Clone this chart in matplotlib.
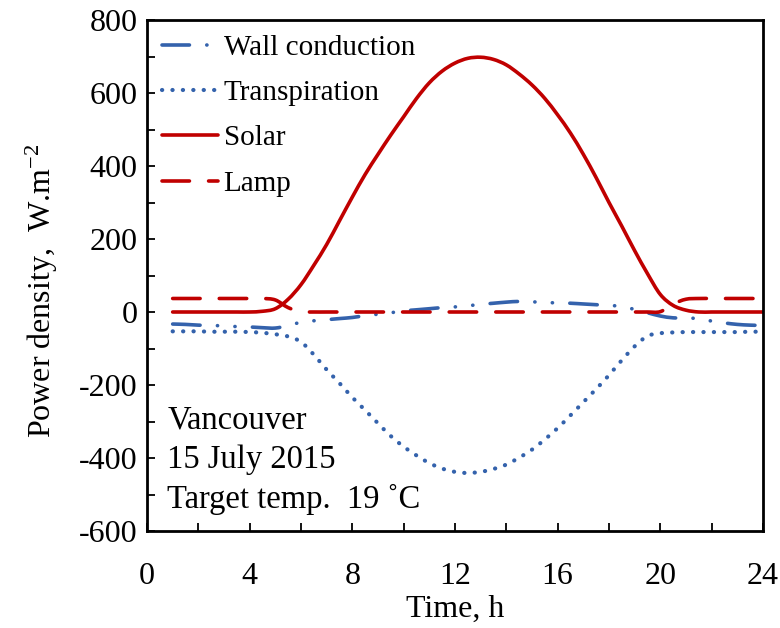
import matplotlib
matplotlib.use("Agg")
import matplotlib.pyplot as plt
from matplotlib.ticker import MultipleLocator
from matplotlib.path import Path
from matplotlib.patches import PathPatch
from matplotlib.lines import Line2D

plt.rcParams['font.family'] = ['Liberation Serif', 'DejaVu Serif']
plt.rcParams['mathtext.fontset'] = 'custom'
plt.rcParams['mathtext.rm'] = 'Liberation Serif'
plt.rcParams['mathtext.it'] = 'Liberation Serif:italic'
plt.rcParams['axes.unicode_minus'] = False

# ---- data ----
hours = [1, 1.5, 2, 2.5, 3, 3.5, 4,
         4.5, 5, 5.5, 6, 6.5, 7, 7.5, 8,
         8.5, 9, 9.5, 10, 10.5, 11, 11.5, 12,
         12.5, 13, 13.5, 14, 14.5, 15, 15.5, 16,
         16.5, 17, 17.5, 18, 18.5, 19, 19.5, 20,
         20.5, 21, 21.5, 22, 22.5, 23, 23.5, 24]

wall_conduction = [-33, -34, -36, -37, -38, -40, -41,
                   -43, -44, -37, -28, -24, -21, -18, -15,
                   -10, -6, -2, 3, 6, 9, 12, 14,
                   17, 21, 24, 27, 29, 28, 26, 25,
                   24, 22, 20, 18, 15, 7, -2, -11,
                   -16, -17, -18, -25, -30, -34, -36, -37]

transpiration = [-53, -53, -53, -54, -54, -54, -55,
                 -57, -61, -67, -82, -117, -158, -195, -234,
                 -269, -305, -340, -369, -393, -414, -429, -438,
                 -441, -438, -430, -418, -399, -377, -349, -318,
                 -283, -247, -211, -173, -132, -94, -66, -58,
                 -56, -55, -55, -55, -55, -55, -54, -54]

solar = [0, 0, 0, 0, 0, 0, 0,
         2, 9, 35, 75, 128, 185, 250, 315,
         377, 432, 485, 535, 585, 628, 660, 682,
         695, 698, 692, 677, 652, 622, 585, 540,
         490, 432, 368, 300, 235, 168, 105, 48,
         18, 5, 0, 0, 0, 0, 0, 0]

lamp = [37, 37, 37, 37, 37, 37, 37,
        37, 33, 12, 1, 0, 0, 0, 0,
        0, 0, 0, 0, 0, 0, 0, 0,
        0, 0, 0, 0, 0, 0, 0, 0,
        0, 0, 0, 0, 0, 0, 0, 1,
        22, 35, 37, 37, 37, 37, 37, 37]

series_labels = ['Wall conduction', 'Transpiration', 'Solar', 'Lamp']
annotation_lines = ['Vancouver', '15 July 2015', 'Target temp.  19 \u02daC']

# ---- styling ----
blue = '#3462AC'
red = '#C00000'
styles = [
    dict(color=blue, lw=2.6, ls=(0, (7.6, 4.8, 0.05, 4.8, 0.05, 4.8))),
    dict(color=blue, lw=3.0, ls=(0, (0.05, 2.45))),
    dict(color=red, lw=2.6, ls='-'),
    dict(color=red, lw=2.6, ls=(0, (7.6, 5.3))),
]


def smooth_path(xs, ys):
    """Excel-like smoothed line: cubic Bezier segments through the points."""
    n = len(xs)
    verts = [(xs[0], ys[0])]
    codes = [Path.MOVETO]
    for i in range(n - 1):
        x0, y0 = xs[max(i - 1, 0)], ys[max(i - 1, 0)]
        x1, y1 = xs[i], ys[i]
        x2, y2 = xs[i + 1], ys[i + 1]
        x3, y3 = xs[min(i + 2, n - 1)], ys[min(i + 2, n - 1)]
        c1 = (x1 + (x2 - x0) / 6.0, y1 + (y2 - y0) / 6.0)
        c2 = (x2 - (x3 - x1) / 6.0, y2 - (y3 - y1) / 6.0)
        verts += [c1, c2, (x2, y2)]
        codes += [Path.CURVE4] * 3
    return Path(verts, codes)


W, H = 780, 628
fig = plt.figure(figsize=(W / 100, H / 100), dpi=100)
L, R, T, B = 147, 763, 20, 531
ax = fig.add_axes([L / W, 1 - B / H, (R - L) / W, (B - T) / H])

handles = []
for ys, st, lab in zip([wall_conduction, transpiration, solar, lamp], styles, series_labels):
    patch = PathPatch(smooth_path(hours, ys), fill=False, edgecolor=st['color'],
                      lw=st['lw'], linestyle=st['ls'], capstyle='round',
                      joinstyle='round', transform=ax.transData)
    ax.add_patch(patch)
    handles.append(Line2D([], [], color=st['color'], lw=st['lw'], linestyle=st['ls'],
                          dash_capstyle='round', solid_capstyle='round', label=lab))

ax.set_xlim(0, 24)
ax.set_ylim(-600, 800)
ax.xaxis.set_major_locator(MultipleLocator(4))
ax.xaxis.set_minor_locator(MultipleLocator(2))
ax.yaxis.set_major_locator(MultipleLocator(200))
ax.yaxis.set_minor_locator(MultipleLocator(100))

for s in ax.spines.values():
    s.set_linewidth(2.0)

ax.tick_params(axis='both', which='both', direction='in', top=False,
               right=False, width=1.3, length=5.5)
ax.tick_params(axis='x', which='major', labelsize=23, pad=22)
ax.tick_params(axis='y', which='major', labelsize=23, pad=7)

ax.set_xlabel('Time, h', fontsize=23)
ax.set_ylabel(r'Power density,  W.m$^{-2}$', fontsize=23)
ax.xaxis.set_label_coords(0.5, -0.125)
ax.yaxis.set_label_coords(-0.142, 0.47)

ax.legend(handles=handles, loc='upper left', bbox_to_anchor=(0.025, 0.972),
          frameon=False, fontsize=21, handlelength=1.9, handletextpad=0.2,
          labelspacing=0.65, borderpad=0, borderaxespad=0)

ys_txt = [0.200, 0.123, 0.045]
for txt, y in zip(annotation_lines, ys_txt):
    ax.text(0.033, y, txt, transform=ax.transAxes, fontsize=23.5,
            ha='left', va='baseline')

fig.savefig('out.png', dpi=100)
